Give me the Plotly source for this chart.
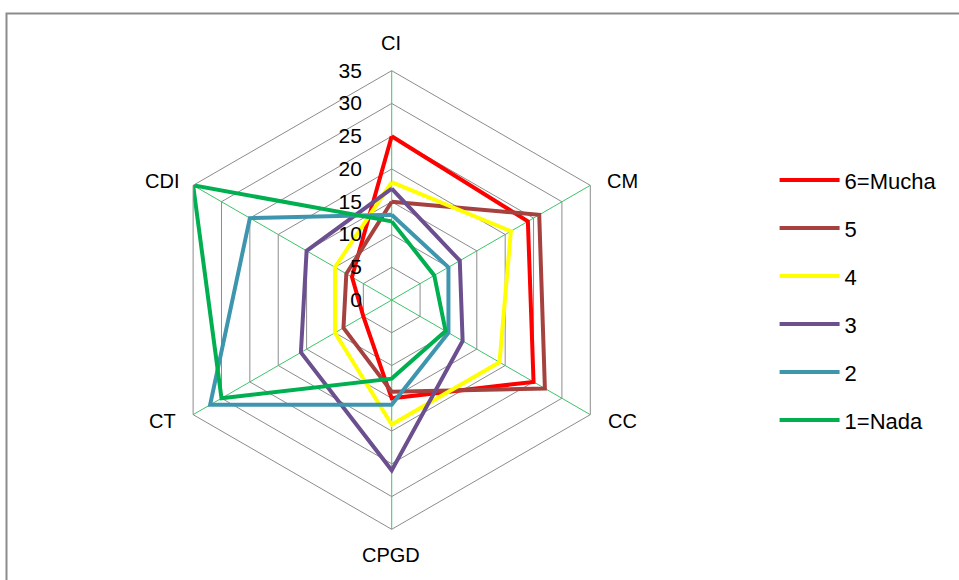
import plotly.graph_objects as go

# Six dimensions around the radar, clockwise from the top
categories = ["CI", "CM", "CC", "CPGD", "CT", "CDI"]

# Response levels (6 = Mucha ... 1 = Nada)
series_names = ["6=Mucha", "5", "4", "3", "2", "1=Nada"]
mucha_6 = [25, 24, 25, 15, 5, 7]
nivel_5 = [15, 26, 27, 14, 8.5, 8]
nivel_4 = [18, 21, 19, 19, 10, 10]
nivel_3 = [17, 12, 12.5, 26, 16, 15]
nivel_2 = [13, 10, 10, 16, 32, 25]
nada_1 = [12, 7.5, 9.5, 12, 30, 35]

radial_ticks = [0, 5, 10, 15, 20, 25, 30, 35]

series_values = [mucha_6, nivel_5, nivel_4, nivel_3, nivel_2, nada_1]
colors = ["#FF0000", "#A5423F", "#FFFF00", "#6C4F8F", "#3E96AE", "#00AF50"]

FONT = "Liberation Sans, Arial"
W, H = 959, 580

# Category label anchor points (pixels): above/below the top and bottom
# spokes, beside the four side vertices.
label_px = [(391, 43), (622, 181), (622, 421), (391, 555), (162, 421), (162, 181)]

fig = go.Figure()
for i, (name, vals, col) in enumerate(zip(series_names, series_values, colors)):
    fig.add_trace(go.Scatterpolar(
        r=vals + vals[:1],
        theta=categories + categories[:1],
        mode="lines",
        name=name,
        line=dict(color=col, width=4),
        legendgroup=f"g{i}",
    ))

annotations = [
    dict(text=cat, x=px / W, y=1 - py / H, xref="paper", yref="paper",
         xanchor="center", yanchor="middle", showarrow=False,
         font=dict(family=FONT, size=20, color="black"))
    for cat, (px, py) in zip(categories, label_px)
]

fig.update_layout(
    width=W, height=H,
    margin=dict(l=0, r=0, t=0, b=0),
    paper_bgcolor="white",
    plot_bgcolor="white",
    font=dict(family=FONT, size=20, color="black"),
    polar=dict(
        domain=dict(x=[0.1693, 0.6476], y=[0.0874, 0.8781]),
        bgcolor="white",
        gridshape="linear",
        angularaxis=dict(
            direction="clockwise",
            rotation=90,
            categoryorder="array",
            categoryarray=categories,
            showline=True,
            linecolor="#8C8C8C",
            linewidth=1,
            gridcolor="#3CC46A",
            gridwidth=1,
            showticklabels=False,
            ticks="",
        ),
        radialaxis=dict(
            range=[0, 35],
            tickvals=radial_ticks,
            ticktext=[str(t) for t in radial_ticks],
            angle=90,
            tickangle=90,
            side="counterclockwise",
            showline=False,
            gridcolor="#8C8C8C",
            gridwidth=1,
            ticks="outside",
            ticklen=22,
            tickcolor="rgba(0,0,0,0)",
            tickfont=dict(family=FONT, size=21, color="black"),
        ),
    ),
    legend=dict(
        x=0.8077, y=0.7255, xanchor="left", yanchor="top",
        font=dict(family=FONT, size=22, color="black"),
        tracegroupgap=16.4,
        itemwidth=60,
        bgcolor="rgba(0,0,0,0)",
    ),
    annotations=annotations,
    shapes=[dict(
        type="rect", xref="paper", yref="paper",
        x0=6.5 / W, x1=1.02, y0=-0.02, y1=1 - 13.5 / H,
        line=dict(color="#8C8C8C", width=2),
        fillcolor="rgba(0,0,0,0)",
        layer="below",
    )],
)

fig.write_html("out.html")
